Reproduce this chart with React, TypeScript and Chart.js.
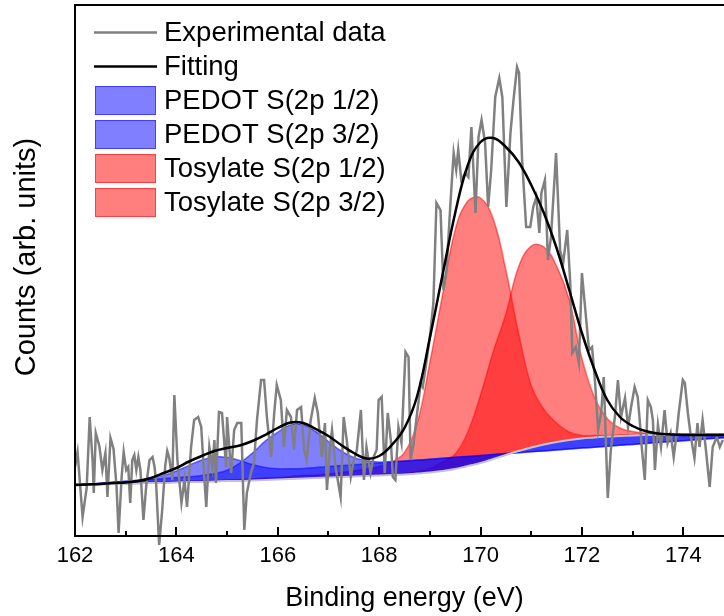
import React, { useEffect, useRef } from "react";
import { Chart, registerables } from "chart.js";

Chart.register(...registerables);

const FONT = "'Liberation Sans', Arial, Helvetica, sans-serif";

// Experimental spectrum: [binding energy (eV), counts (arb.)]
const experimental: [number, number][] = [
  [162.0, 69], [162.05, 84], [162.15, 19], [162.23, 48], [162.29, 119], [162.35, 73], [162.37, 43], [162.41, 103],
  [162.48, 90], [162.54, 66], [162.6, 83], [162.64, 39], [162.7, 98], [162.76, 87], [162.82, 49], [162.86, 3],
  [162.92, 59], [162.96, 84], [163.01, 66], [163.05, 69], [163.09, 33], [163.13, 76], [163.17, 81], [163.21, 66],
  [163.25, 79], [163.29, 66], [163.35, 16], [163.41, 53], [163.47, 76], [163.53, 79], [163.57, 69], [163.6, 53],
  [163.66, -9], [163.72, 26], [163.78, 70], [163.82, 85], [163.86, 78], [163.92, 56], [163.96, 141], [164.02, 76],
  [164.1, 33], [164.16, 56], [164.21, 29], [164.29, 89], [164.35, 116], [164.43, 119], [164.49, 109], [164.55, 59],
  [164.59, 29], [164.65, 89], [164.71, 69], [164.75, 96], [164.78, 53], [164.84, 124], [164.9, 123], [164.98, 69],
  [165.0, 119], [165.08, 63], [165.14, 106], [165.2, 113], [165.28, 113], [165.34, 6], [165.39, 43], [165.47, 63],
  [165.53, 73], [165.59, 116], [165.67, 156], [165.73, 156], [165.79, 116], [165.87, 79], [165.93, 123], [165.98, 151],
  [166.06, 136], [166.12, 89], [166.18, 126], [166.26, 119], [166.32, 86], [166.38, 126], [166.46, 129], [166.52, 86],
  [166.57, 76], [166.65, 116], [166.73, 138], [166.79, 123], [166.87, 79], [166.93, 113], [166.97, 46], [167.03, 89],
  [167.07, 106], [167.14, 69], [167.24, 39], [167.3, 119], [167.36, 96], [167.44, 59], [167.5, 76], [167.56, 86],
  [167.64, 126], [167.7, 56], [167.75, 89], [167.83, 63], [167.89, 79], [167.95, 86], [167.99, 136], [168.05, 139],
  [168.11, 63], [168.17, 123], [168.23, 96], [168.27, 59], [168.32, 56], [168.38, 109], [168.44, 93], [168.52, 184],
  [168.58, 179], [168.62, 76], [168.68, 93], [168.74, 119], [168.82, 153], [168.86, 149], [168.91, 166], [169.01, 203],
  [169.07, 233], [169.13, 333], [169.21, 326], [169.27, 246], [169.33, 266], [169.41, 336], [169.47, 383], [169.52, 366],
  [169.56, 386], [169.62, 356], [169.7, 363], [169.76, 359], [169.82, 409], [169.9, 323], [169.96, 399], [170.02, 416],
  [170.09, 393], [170.15, 329], [170.21, 366], [170.29, 439], [170.37, 458], [170.43, 439], [170.51, 329], [170.59, 403],
  [170.65, 436], [170.72, 469], [170.76, 463], [170.82, 376], [170.9, 309], [170.98, 309], [171.04, 329], [171.1, 339],
  [171.16, 303], [171.2, 343], [171.27, 356], [171.33, 276], [171.39, 299], [171.49, 383], [171.57, 286], [171.63, 273],
  [171.71, 306], [171.77, 253], [171.81, 183], [171.88, 189], [171.94, 173], [172.0, 263], [172.08, 219], [172.14, 186],
  [172.2, 189], [172.26, 153], [172.32, 106], [172.38, 123], [172.43, 159], [172.51, 38], [172.57, 86], [172.65, 119],
  [172.71, 156], [172.77, 119], [172.85, 138], [172.91, 109], [172.97, 129], [173.04, 149], [173.1, 139], [173.14, 116],
  [173.18, 89], [173.24, 56], [173.3, 136], [173.36, 129], [173.4, 116], [173.44, 66], [173.5, 111], [173.56, 89],
  [173.63, 126], [173.69, 93], [173.75, 103], [173.81, 79], [173.87, 103], [173.91, 123], [173.99, 156], [174.03, 153],
  [174.09, 123], [174.15, 99], [174.22, 78], [174.28, 113], [174.32, 89], [174.38, 116], [174.44, 89], [174.52, 49],
  [174.58, 89], [174.66, 99], [174.72, 89], [174.78, 96],
];

// Energy grid of the fitted curves (eV)
const fitEnergy = [
  162.0, 162.25, 162.5, 162.75, 163.0, 163.25, 163.5, 163.75, 164.0, 164.25, 164.5, 164.75, 165.0, 165.25,
  165.5, 165.75, 166.0, 166.25, 166.5, 166.75, 167.0, 167.25, 167.5, 167.75, 168.0, 168.25, 168.5, 168.75,
  169.0, 169.25, 169.5, 169.75, 170.0, 170.25, 170.5, 170.75, 171.0, 171.25, 171.5, 171.75, 172.0, 172.25,
  172.5, 172.75, 173.0, 173.25, 173.5, 173.75, 174.0, 174.25, 174.5, 174.75, 175.0,
];

const background = [
  51, 51, 51.5, 52, 52, 52.5, 53, 53, 53.5, 54, 54, 54.5, 55, 55, 55.5, 56, 56.5, 57, 57.5, 58, 58.5, 59, 59.5,
  60, 60.5, 61, 61.5, 62.5, 63.5, 65, 67, 70, 73, 77, 81, 85, 88.5, 91.5, 94, 96, 97.5, 98.5, 99.5, 100, 100.5,
  101, 101, 101, 101, 101, 101, 101, 101,
];

const fitting = [
  51, 51.5, 52, 53, 53.5, 55, 58, 63, 68, 74.5, 80, 85, 88, 90.5, 95, 101, 108, 113.5, 113, 107, 100, 91, 83,
  77.5, 80, 91, 108, 140, 198, 261, 323, 371, 394, 398, 389, 374, 351, 323, 288, 246, 203, 166, 136, 119, 110,
  105, 102.5, 101.5, 101, 101, 101, 101, 101,
];

const pedot12 = [
  51.0, 51.9, 52.8, 53.8, 54.7, 55.6, 56.5, 57.5, 58.4, 59.3, 60.6, 62.4, 65.7, 73.0, 82.9, 94.8, 103.8, 111.1,
  111.2, 104.5, 94.5, 85.0, 78.5, 75.2, 74.1, 74.4, 75.0, 75.9, 76.8, 77.8, 78.7, 79.6, 80.5, 81.4, 82.4, 83.3,
  84.2, 85.1, 86.1, 87.0, 87.9, 88.8, 89.8, 90.7, 91.6, 92.5, 93.5, 94.4, 95.3, 96.2, 97.2, 98.1, 99.0,
];

const pedot32 = [
  51.0, 51.9, 52.8, 53.8, 54.7, 56.0, 57.7, 60.6, 65.0, 70.6, 76.0, 79.1, 78.7, 75.5, 71.5, 68.6, 67.3, 67.2,
  67.6, 68.5, 69.5, 70.4, 71.3, 72.2, 73.1, 74.1, 75.0, 75.9, 76.8, 77.8, 78.7, 79.6, 80.5, 81.4, 82.4, 83.3,
  84.2, 85.1, 86.1, 87.0, 87.9, 88.8, 89.8, 90.7, 91.6, 92.5, 93.5, 94.4, 95.3, 96.2, 97.2, 98.1, 99.0,
];

const tosylate12 = [
  51.5, 51.5, 52, 52.5, 52.5, 53, 53.5, 53.5, 54, 54.5, 54.5, 55, 55.5, 55.5, 56, 56.5, 57, 57.5, 58, 58.5, 59,
  59.5, 60, 60.5, 61.5, 62, 62.5, 64.5, 67.5, 74, 82, 104, 141, 184, 222, 269, 290, 289, 270, 236, 177.5, 138.5,
  117.5, 108, 104.5, 103, 102, 102, 102, 102, 102, 102, 102,
];

const tosylate32 = [
  52, 52, 52.5, 53, 53, 53.5, 54, 54, 54.5, 55, 55, 55.5, 56, 56.5, 57, 58, 58.5, 59.5, 60.5, 61, 62, 63.5, 65,
  67, 69.5, 74, 83.5, 112.5, 173.5, 241, 306, 335, 338, 317, 266, 203, 150.5, 126.5, 113, 104, 100.5, 100.5,
  100.5, 101, 101.5, 102, 102, 102, 102, 102, 102, 102, 102,
];

const xTicks = [162, 164, 166, 168, 170, 172, 174];
const xMinorTicks = [163, 165, 167, 169, 171, 173, 175];
const xTitle = "Binding energy (eV)";
const yTitle = "Counts (arb. units)";

const seriesLabels = [
  "Experimental data",
  "Fitting",
  "PEDOT S(2p 1/2)",
  "PEDOT S(2p 3/2)",
  "Tosylate S(2p 1/2)",
  "Tosylate S(2p 3/2)",
];
const legendKinds = ["line", "line", "box", "box", "box", "box"];

const BLUE = "rgba(0,0,255,0.5)";
const RED = "rgba(255,0,0,0.5)";
const TENSION = 0.4;

const onGrid = (vals: number[]) => fitEnergy.map((x, i) => ({ x, y: vals[i] }));

const frameTicksPlugin = {
  id: "frameTicks",
  afterDatasetsDraw(chart: any) {
    const { ctx, chartArea: a, scales } = chart;
    const x = scales.x;
    ctx.save();
    ctx.strokeStyle = "#000";
    ctx.lineWidth = 2;
    ctx.strokeRect(a.left, a.top, a.right - a.left, a.bottom - a.top);
    ctx.beginPath();
    xTicks.forEach((v) => {
      const p = Math.round(x.getPixelForValue(v));
      ctx.moveTo(p, a.bottom);
      ctx.lineTo(p, a.bottom - 9);
    });
    xMinorTicks.forEach((v) => {
      const p = Math.round(x.getPixelForValue(v));
      ctx.moveTo(p, a.bottom);
      ctx.lineTo(p, a.bottom - 5);
    });
    ctx.stroke();
    ctx.restore();
  },
};

const legendPlugin = {
  id: "insideLegend",
  afterDraw(chart: any) {
    const { ctx } = chart;
    ctx.save();
    ctx.font = `27.5px ${FONT}`;
    ctx.textBaseline = "middle";
    ctx.textAlign = "left";
    seriesLabels.forEach((label, i) => {
      const ds = chart.data.datasets[i];
      const y = 32.5 + 34 * i;
      if (legendKinds[i] === "line") {
        ctx.strokeStyle = ds.borderColor;
        ctx.lineWidth = 2.5;
        ctx.beginPath();
        ctx.moveTo(94, y);
        ctx.lineTo(157, y);
        ctx.stroke();
      } else {
        ctx.fillStyle = ds.backgroundColor;
        ctx.fillRect(95, y - 14.5, 61, 29);
        ctx.strokeStyle = ds.borderColor;
        ctx.lineWidth = 1;
        ctx.strokeRect(95.5, y - 14, 60, 28);
      }
      ctx.fillStyle = "#000";
      ctx.fillText(label, 164, y + 1);
    });
    // y axis title
    ctx.translate(27, 257);
    ctx.rotate(-Math.PI / 2);
    ctx.font = `29px ${FONT}`;
    ctx.textAlign = "center";
    ctx.fillText(yTitle, 0, 0);
    ctx.restore();
  },
};

export default function App() {
  const canvasRef = useRef<HTMLCanvasElement>(null);

  useEffect(() => {
    if (!canvasRef.current) return;
    Chart.defaults.font.family = FONT;
    const curve = (label: string, vals: number[], color: string, order: number) => ({
      label,
      data: onGrid(vals),
      borderColor: color,
      backgroundColor: color,
      borderWidth: 1.5,
      pointRadius: 0,
      tension: TENSION,
      fill: 6,
      order,
    });
    const chart = new Chart(canvasRef.current, {
      type: "line",
      data: {
        datasets: [
          {
            label: seriesLabels[0],
            data: experimental.map(([x, y]) => ({ x, y })),
            borderColor: "rgb(128,128,128)",
            borderWidth: 2.5,
            pointRadius: 0,
            tension: 0,
            fill: false,
            order: 1,
            clip: { left: 0, top: 0, right: 0, bottom: 20 } as any,
          },
          {
            label: seriesLabels[1],
            data: onGrid(fitting),
            borderColor: "#000",
            borderWidth: 2.5,
            pointRadius: 0,
            tension: TENSION,
            fill: false,
            order: 0,
          },
          curve(seriesLabels[2], pedot12, BLUE, 3),
          curve(seriesLabels[3], pedot32, BLUE, 3),
          curve(seriesLabels[4], tosylate12, RED, 4),
          curve(seriesLabels[5], tosylate32, RED, 4),
          {
            label: "Background",
            data: onGrid(background),
            borderColor: "rgb(195,195,205)",
            borderWidth: 2,
            pointRadius: 0,
            tension: TENSION,
            fill: false,
            order: 2,
          },
        ],
      },
      options: {
        responsive: false,
        animation: false,
        devicePixelRatio: 1,
        layout: { padding: { top: 5, right: 0, bottom: 0, left: 0 } },
        plugins: {
          legend: { display: false },
          tooltip: { enabled: false },
          title: { display: false },
        },
        scales: {
          x: {
            type: "linear",
            min: 162,
            max: 175,
            afterBuildTicks: (s: any) => {
              s.ticks = xTicks.map((value) => ({ value }));
            },
            afterFit: (s: any) => {
              s.height = 80;
            },
            grid: { display: false, drawTicks: false },
            border: { display: false },
            ticks: {
              color: "#000",
              font: { size: 22, family: FONT },
              padding: 7,
              maxRotation: 0,
              autoSkip: false,
            },
            title: {
              display: true,
              text: xTitle,
              color: "#000",
              font: { size: 27, family: FONT },
              padding: { top: 0, bottom: 1 },
            },
          },
          y: {
            type: "linear",
            min: 0,
            max: 531,
            afterFit: (s: any) => {
              s.width = 75;
            },
            grid: { display: false, drawTicks: false },
            border: { display: false },
            ticks: { display: false },
          },
        },
      },
      plugins: [frameTicksPlugin, legendPlugin],
    });
    return () => chart.destroy();
  }, []);

  return (
    <div
      style={{
        position: "fixed",
        left: 0,
        top: 0,
        width: 724,
        height: 616,
        overflow: "hidden",
        background: "#fff",
      }}
    >
      <canvas ref={canvasRef} width={734} height={616} style={{ display: "block" }} />
    </div>
  );
}
